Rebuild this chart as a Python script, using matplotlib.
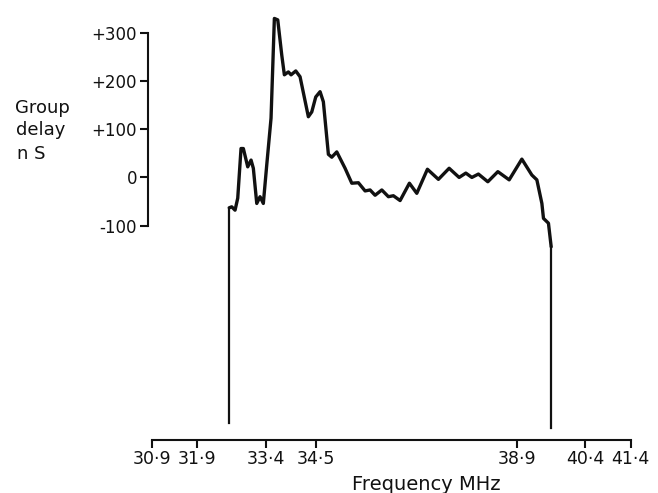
import matplotlib
matplotlib.use('Agg')
import matplotlib.pyplot as plt

# frequency (MHz) and group delay (nS)
freq = [32.60, 32.60, 32.654, 32.727, 32.786, 32.858, 32.909, 33.005, 33.078, 33.128,
        33.203, 33.275, 33.347, 33.422, 33.516, 33.589, 33.663, 33.751, 33.808, 33.896,
        33.955, 34.058, 34.152, 34.334, 34.409, 34.496, 34.591, 34.663, 34.773, 34.847,
        34.957, 35.139, 35.286, 35.431, 35.578, 35.687, 35.797, 35.944, 36.089, 36.198,
        36.345, 36.549, 36.711, 36.944, 37.185, 37.420, 37.639, 37.786, 37.918, 38.062,
        38.268, 38.488, 38.736, 39.014, 39.233, 39.343, 39.453, 39.488, 39.597, 39.657,
        39.657]
delay = [-510, -63, -61, -68, -43, 60, 60, 22, 36, 19,
         -54, -40, -54, 26, 123, 330, 327, 254, 213, 219,
         213, 221, 209, 126, 136, 167, 178, 157, 48, 42,
         53, 19, -12, -11, -28, -26, -37, -26, -40, -38,
         -48, -12, -33, 17, -4, 19, 0, 9, 0, 7,
         -9, 12, -5, 38, 5, -5, -54, -85, -95, -144,
         -520]

xticks = [30.9, 31.9, 33.4, 34.5, 38.9, 40.4, 41.4]
xlabels = ['30·9', '31·9', '33·4', '34·5', '38·9', '40·4', '41·4']
yticks = [-100, 0, 100, 200, 300]
ylabels = ['-100', '0', '+100', '+200', '+300']

W, H = 658, 493
fig = plt.figure(figsize=(W / 100, H / 100), dpi=100)
ax = fig.add_axes([151.7 / W, 53 / H, 479 / W, 433.6 / H])

# main trace thick, the two drops to the baseline thinner
ax.plot(freq[1:-1], delay[1:-1], color='#111111', lw=2.4,
        solid_joinstyle='round', solid_capstyle='round')
ax.plot(freq[:2], delay[:2], color='#111111', lw=1.6)
ax.plot(freq[-2:], delay[-2:], color='#111111', lw=1.6)

ax.set_xlim(30.9, 41.4)
ax.set_ylim(-545, 355)

for s in ['top', 'right']:
    ax.spines[s].set_visible(False)
ax.spines['left'].set_position(('outward', 2.5))
ax.spines['left'].set_bounds(-100, 300)
ax.spines['bottom'].set_bounds(30.9, 41.4)
for s in ['left', 'bottom']:
    ax.spines[s].set_linewidth(1.5)
    ax.spines[s].set_color('#111111')

ax.set_xticks(xticks)
ax.set_xticklabels(xlabels, fontsize=12.5)
ax.set_yticks(yticks)
ax.set_yticklabels(ylabels, fontsize=12)
ax.tick_params(axis='both', length=6, width=1.5, color='#111111', labelcolor='#111111')
ax.tick_params(axis='x', pad=1.5)
ax.tick_params(axis='y', pad=2)

fig.text(426 / W, 1 - 484 / H, 'Frequency MHz', fontsize=14, ha='center', va='center',
         color='#111111')
fig.text(42 / W, 1 - 108 / H, 'Group', fontsize=13, ha='center', va='center', color='#111111')
fig.text(41 / W, 1 - 130 / H, 'delay', fontsize=13, ha='center', va='center', color='#111111')
fig.text(31 / W, 1 - 154 / H, 'n S', fontsize=13, ha='center', va='center', color='#111111')

fig.savefig('out.png', dpi=100)
